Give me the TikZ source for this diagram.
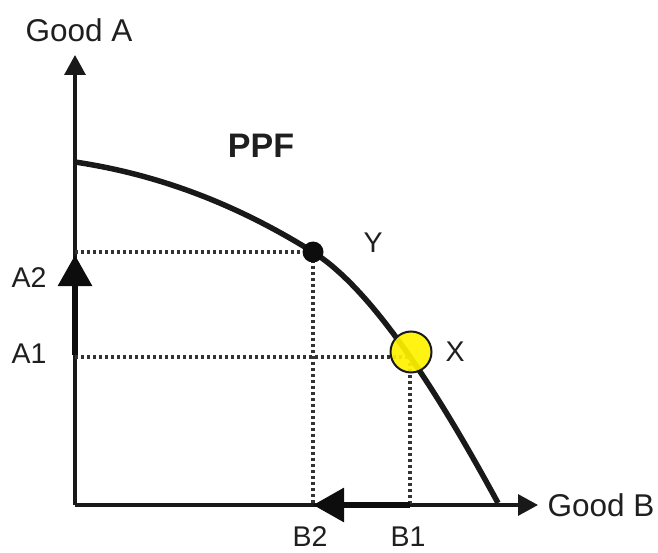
\documentclass[tikz,border=0pt]{standalone}
\usepackage{fontspec}
\setmainfont{Liberation Sans}
\usetikzlibrary{arrows.meta}
\begin{document}
\begin{tikzpicture}[x=1pt,y=-1pt,
  axis/.style={line width=3.2pt, black!90, -{Triangle[length=20pt,width=21pt]}},
  ppfcurve/.style={line width=5.5pt, black!90},
  guide/.style={line width=3.6pt, dash pattern=on 3.2pt off 2.8pt, black!80},
  shiftarrow/.style={line width=6pt, black!95, -{Triangle[length=31pt,width=33pt]}},
  lbl/.style={font=\fontsize{28.5}{30}\selectfont, text=black!88, inner sep=0pt},
  biglbl/.style={font=\fontsize{31.5}{33}\selectfont, text=black!88, inner sep=0pt},
]
\useasboundingbox (0,0) rectangle (658,553);
% axes
\coordinate (O) at (75,505);
\coordinate (ytop) at (75,55);
\coordinate (xend) at (538,505);
\draw[axis] (O) -- (ytop);
\draw[axis] (O) -- (xend);
% PPF curve
\coordinate (ppfstart) at (75,162);
\coordinate (ppfend) at (498,503);
\coordinate (ypt) at (313,252);
\draw[ppfcurve] (ppfstart) .. controls (155,174) and (233,202) .. (ypt)
  .. controls (378,293) and (448,411) .. (ppfend);
% guide coordinates
\coordinate (a2) at (75,252);
\coordinate (a1) at (75,357);
\coordinate (b2) at (313,505);
\coordinate (b1) at (410,505);
\coordinate (xh) at (411,357);
\coordinate (xv) at (410,357);
\draw[guide] (a2) -- (ypt) -- (b2);
\draw[guide] (a1) -- (xh);
\draw[guide] (xv) -- (b1);
% shift arrows
\coordinate (a1s) at (75,355);
\coordinate (a2s) at (75,255);
\draw[shiftarrow] (a1s) -- (a2s);
\draw[shiftarrow] (b1) -- (b2);
% points
\node[circle, fill=black!95, minimum size=21pt, inner sep=0pt] (Y) at (ypt) {};
\node[circle, draw=black!90, line width=2pt, fill=yellow, fill opacity=0.92, draw opacity=1, minimum size=41pt, inner sep=0pt] (X) at (411,352) {};
% labels
\node[biglbl] (goodA) at (79,30) {Good A};
\node[biglbl] (goodB) at (601,505) {Good B};
\node[font=\fontsize{34}{36}\selectfont\bfseries, text=black!88, inner sep=0pt] (ppf) at (261,146) {PPF};
\node[lbl] (Ylab) at (373,243) {Y};
\node[lbl] (Xlab) at (455,352) {X};
\node[lbl] (A2lab) at (29,278) {A2};
\node[lbl] (A1lab) at (29,354) {A1};
\node[lbl] (B2lab) at (310,537) {B2};
\node[lbl] (B1lab) at (408,537) {B1};
\end{tikzpicture}
\end{document}
